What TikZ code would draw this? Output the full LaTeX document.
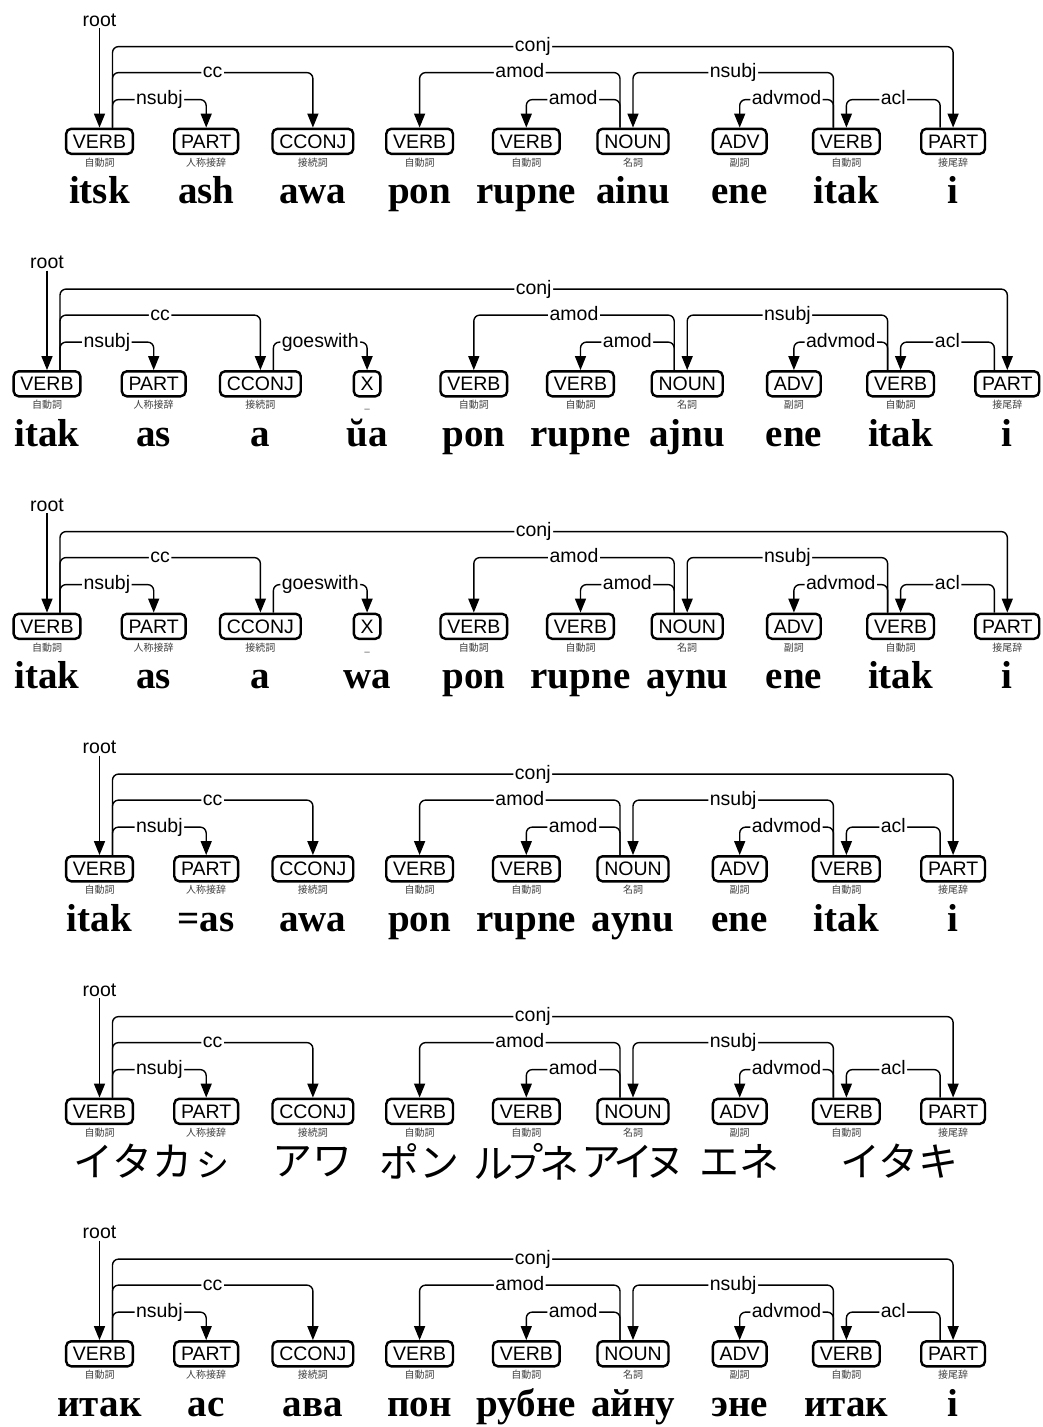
\documentclass[tikz,border=0pt]{standalone}
\usepackage{fontspec}
\setmainfont{Liberation Serif}
\setsansfont{Liberation Sans}
\newfontfamily\cjkfont{Noto Sans CJK JP}
\usetikzlibrary{positioning}
\usetikzlibrary{arrows.meta}

\begin{document}
\begin{tikzpicture}
			[x=1pt,y=1pt,
			 node distance=106.7pt,on grid,
			 tag/.style={draw,line width=2.4pt,rounded corners=5pt,font=\sffamily\fontsize{19.5}{20}\selectfont,
			   inner xsep=6.8pt,inner ysep=5.5pt,text height=14pt,text depth=0pt},
			 gloss/.style={font=\cjkfont\fontsize{10}{10}\selectfont,text=black!75,inner sep=0pt},
			 word/.style={font=\bfseries\fontsize{39}{40}\selectfont,inner sep=0pt},
			 kana/.style={font=\cjkfont\fontsize{40}{40}\selectfont,inner sep=0pt},
			 lbl/.style={font=\sffamily\fontsize{19.5}{20}\selectfont,fill=white,inner xsep=1.5pt,inner ysep=2pt,
			   text height=10pt,text depth=0pt,anchor=center},
			 dep/.style={line width=1.4pt,rounded corners=6pt,-{Triangle[length=14pt,width=11pt]}}]
			\useasboundingbox (0,0) rectangle (1042,-1427);

			% a) itsk ash awa
			\node[tag] (a1) at (99.5,-141.3) {VERB};
			\node[tag] (a2) [right=of a1] {PART};
			\node[tag] (a3) [right=of a2] {CCONJ};
			\node[tag] (a4) [right=of a3] {VERB};
			\node[tag] (a5) [right=of a4] {VERB};
			\node[tag] (a6) [right=of a5] {NOUN};
			\node[tag] (a7) [right=of a6] {ADV};
			\node[tag] (a8) [right=of a7] {VERB};
			\node[tag] (a9) [right=of a8] {PART};
			\node[lbl] (a0) [above=115.3pt of a1,anchor=base] {root};
			\node[gloss] (a1g) [below=25pt of a1,anchor=base] {自動詞};
			\node[gloss] (a2g) [below=25pt of a2,anchor=base] {人称接辞};
			\node[gloss] (a3g) [below=25pt of a3,anchor=base] {接続詞};
			\node[gloss] (a4g) [below=25pt of a4,anchor=base] {自動詞};
			\node[gloss] (a5g) [below=25pt of a5,anchor=base] {自動詞};
			\node[gloss] (a6g) [below=25pt of a6,anchor=base] {名詞};
			\node[gloss] (a7g) [below=25pt of a7,anchor=base] {副詞};
			\node[gloss] (a8g) [below=25pt of a8,anchor=base] {自動詞};
			\node[gloss] (a9g) [below=25pt of a9,anchor=base] {接尾辞};
			\node[word] (a1w) [below=62.5pt of a1,anchor=base] {itsk};
			\node[word] (a2w) [below=62.5pt of a2,anchor=base] {ash};
			\node[word] (a3w) [below=62.5pt of a3,anchor=base] {awa};
			\node[word] (a4w) [below=62.5pt of a4,anchor=base] {pon};
			\node[word] (a5w) [below=62.5pt of a5,anchor=base] {rupne};
			\node[word] (a6w) [below=62.5pt of a6,anchor=base] {ainu};
			\node[word] (a7w) [below=62.5pt of a7,anchor=base] {ene};
			\node[word] (a8w) [below=62.5pt of a8,anchor=base] {itak};
			\node[word] (a9w) [below=62.5pt of a9,anchor=base] {i};
			\draw[dep] (a0) -- (a1);
			\draw[dep] ([xshift=13pt]a1.north) |- node[lbl,pos=.75] {conj} ([yshift=81pt]a9.north) -- (a9);
			\draw[dep] ([xshift=13pt]a1.north) |- node[lbl,pos=.75] {cc} ([yshift=55pt]a3.north) -- (a3);
			\draw[dep] ([xshift=13pt]a1.north) |- node[lbl,pos=.75] {nsubj} ([yshift=28pt]a2.north) -- (a2);
			\draw[dep] ([xshift=-13pt]a6.north) |- node[lbl,pos=.75] {amod} ([yshift=55pt]a4.north) -- (a4);
			\draw[dep] ([xshift=-13pt]a6.north) |- node[lbl,pos=.75] {amod} ([yshift=28pt]a5.north) -- (a5);
			\draw[dep] ([xshift=-13pt]a8.north) |- node[lbl,pos=.75] {nsubj} ([yshift=55pt]a6.north) -- (a6);
			\draw[dep] ([xshift=-13pt]a8.north) |- node[lbl,pos=.75] {advmod} ([yshift=28pt]a7.north) -- (a7);
			\draw[dep] ([xshift=-13pt]a9.north) |- node[lbl,pos=.75] {acl} ([yshift=28pt]a8.north) -- (a8);

			% b) itak as a ua
			\node[tag] (b1) at (47,-383.8) {VERB};
			\node[tag] (b2) [right=of b1] {PART};
			\node[tag] (b3) [right=of b2] {CCONJ};
			\node[tag] (b4) [right=of b3] {X};
			\node[tag] (b5) [right=of b4] {VERB};
			\node[tag] (b6) [right=of b5] {VERB};
			\node[tag] (b7) [right=of b6] {NOUN};
			\node[tag] (b8) [right=of b7] {ADV};
			\node[tag] (b9) [right=of b8] {VERB};
			\node[tag] (b10) [right=of b9] {PART};
			\node[lbl] (b0) [above=115.3pt of b1,anchor=base] {root};
			\node[gloss] (b1g) [below=25pt of b1,anchor=base] {自動詞};
			\node[gloss] (b2g) [below=25pt of b2,anchor=base] {人称接辞};
			\node[gloss] (b3g) [below=25pt of b3,anchor=base] {接続詞};
			\node[gloss] (b4g) [below=25pt of b4,anchor=base] {\_};
			\node[gloss] (b5g) [below=25pt of b5,anchor=base] {自動詞};
			\node[gloss] (b6g) [below=25pt of b6,anchor=base] {自動詞};
			\node[gloss] (b7g) [below=25pt of b7,anchor=base] {名詞};
			\node[gloss] (b8g) [below=25pt of b8,anchor=base] {副詞};
			\node[gloss] (b9g) [below=25pt of b9,anchor=base] {自動詞};
			\node[gloss] (b10g) [below=25pt of b10,anchor=base] {接尾辞};
			\node[word] (b1w) [below=62.5pt of b1,anchor=base] {itak};
			\node[word] (b2w) [below=62.5pt of b2,anchor=base] {as};
			\node[word] (b3w) [below=62.5pt of b3,anchor=base] {a};
			\node[word] (b4w) [below=62.5pt of b4,anchor=base] {ŭa};
			\node[word] (b5w) [below=62.5pt of b5,anchor=base] {pon};
			\node[word] (b6w) [below=62.5pt of b6,anchor=base] {rupne};
			\node[word] (b7w) [below=62.5pt of b7,anchor=base] {ajnu};
			\node[word] (b8w) [below=62.5pt of b8,anchor=base] {ene};
			\node[word] (b9w) [below=62.5pt of b9,anchor=base] {itak};
			\node[word] (b10w) [below=62.5pt of b10,anchor=base] {i};
			\draw[dep] (b0) -- (b1);
			\draw[dep] ([xshift=13pt]b1.north) |- node[lbl,pos=.75] {conj} ([yshift=81pt]b10.north) -- (b10);
			\draw[dep] ([xshift=13pt]b1.north) |- node[lbl,pos=.75] {cc} ([yshift=55pt]b3.north) -- (b3);
			\draw[dep] ([xshift=13pt]b1.north) |- node[lbl,pos=.75] {nsubj} ([yshift=28pt]b2.north) -- (b2);
			\draw[dep] ([xshift=13pt]b3.north) |- node[lbl,pos=.75] {goeswith} ([yshift=28pt]b4.north) -- (b4);
			\draw[dep] ([xshift=-13pt]b7.north) |- node[lbl,pos=.75] {amod} ([yshift=55pt]b5.north) -- (b5);
			\draw[dep] ([xshift=-13pt]b7.north) |- node[lbl,pos=.75] {amod} ([yshift=28pt]b6.north) -- (b6);
			\draw[dep] ([xshift=-13pt]b9.north) |- node[lbl,pos=.75] {nsubj} ([yshift=55pt]b7.north) -- (b7);
			\draw[dep] ([xshift=-13pt]b9.north) |- node[lbl,pos=.75] {advmod} ([yshift=28pt]b8.north) -- (b8);
			\draw[dep] ([xshift=-13pt]b10.north) |- node[lbl,pos=.75] {acl} ([yshift=28pt]b9.north) -- (b9);

			% c) itak as a wa
			\node[tag] (c1) at (47,-626.3) {VERB};
			\node[tag] (c2) [right=of c1] {PART};
			\node[tag] (c3) [right=of c2] {CCONJ};
			\node[tag] (c4) [right=of c3] {X};
			\node[tag] (c5) [right=of c4] {VERB};
			\node[tag] (c6) [right=of c5] {VERB};
			\node[tag] (c7) [right=of c6] {NOUN};
			\node[tag] (c8) [right=of c7] {ADV};
			\node[tag] (c9) [right=of c8] {VERB};
			\node[tag] (c10) [right=of c9] {PART};
			\node[lbl] (c0) [above=115.3pt of c1,anchor=base] {root};
			\node[gloss] (c1g) [below=25pt of c1,anchor=base] {自動詞};
			\node[gloss] (c2g) [below=25pt of c2,anchor=base] {人称接辞};
			\node[gloss] (c3g) [below=25pt of c3,anchor=base] {接続詞};
			\node[gloss] (c4g) [below=25pt of c4,anchor=base] {\_};
			\node[gloss] (c5g) [below=25pt of c5,anchor=base] {自動詞};
			\node[gloss] (c6g) [below=25pt of c6,anchor=base] {自動詞};
			\node[gloss] (c7g) [below=25pt of c7,anchor=base] {名詞};
			\node[gloss] (c8g) [below=25pt of c8,anchor=base] {副詞};
			\node[gloss] (c9g) [below=25pt of c9,anchor=base] {自動詞};
			\node[gloss] (c10g) [below=25pt of c10,anchor=base] {接尾辞};
			\node[word] (c1w) [below=62.5pt of c1,anchor=base] {itak};
			\node[word] (c2w) [below=62.5pt of c2,anchor=base] {as};
			\node[word] (c3w) [below=62.5pt of c3,anchor=base] {a};
			\node[word] (c4w) [below=62.5pt of c4,anchor=base] {wa};
			\node[word] (c5w) [below=62.5pt of c5,anchor=base] {pon};
			\node[word] (c6w) [below=62.5pt of c6,anchor=base] {rupne};
			\node[word] (c7w) [below=62.5pt of c7,anchor=base] {aynu};
			\node[word] (c8w) [below=62.5pt of c8,anchor=base] {ene};
			\node[word] (c9w) [below=62.5pt of c9,anchor=base] {itak};
			\node[word] (c10w) [below=62.5pt of c10,anchor=base] {i};
			\draw[dep] (c0) -- (c1);
			\draw[dep] ([xshift=13pt]c1.north) |- node[lbl,pos=.75] {conj} ([yshift=81pt]c10.north) -- (c10);
			\draw[dep] ([xshift=13pt]c1.north) |- node[lbl,pos=.75] {cc} ([yshift=55pt]c3.north) -- (c3);
			\draw[dep] ([xshift=13pt]c1.north) |- node[lbl,pos=.75] {nsubj} ([yshift=28pt]c2.north) -- (c2);
			\draw[dep] ([xshift=13pt]c3.north) |- node[lbl,pos=.75] {goeswith} ([yshift=28pt]c4.north) -- (c4);
			\draw[dep] ([xshift=-13pt]c7.north) |- node[lbl,pos=.75] {amod} ([yshift=55pt]c5.north) -- (c5);
			\draw[dep] ([xshift=-13pt]c7.north) |- node[lbl,pos=.75] {amod} ([yshift=28pt]c6.north) -- (c6);
			\draw[dep] ([xshift=-13pt]c9.north) |- node[lbl,pos=.75] {nsubj} ([yshift=55pt]c7.north) -- (c7);
			\draw[dep] ([xshift=-13pt]c9.north) |- node[lbl,pos=.75] {advmod} ([yshift=28pt]c8.north) -- (c8);
			\draw[dep] ([xshift=-13pt]c10.north) |- node[lbl,pos=.75] {acl} ([yshift=28pt]c9.north) -- (c9);

			% d) itak =as awa
			\node[tag] (d1) at (99.5,-868.8) {VERB};
			\node[tag] (d2) [right=of d1] {PART};
			\node[tag] (d3) [right=of d2] {CCONJ};
			\node[tag] (d4) [right=of d3] {VERB};
			\node[tag] (d5) [right=of d4] {VERB};
			\node[tag] (d6) [right=of d5] {NOUN};
			\node[tag] (d7) [right=of d6] {ADV};
			\node[tag] (d8) [right=of d7] {VERB};
			\node[tag] (d9) [right=of d8] {PART};
			\node[lbl] (d0) [above=115.3pt of d1,anchor=base] {root};
			\node[gloss] (d1g) [below=25pt of d1,anchor=base] {自動詞};
			\node[gloss] (d2g) [below=25pt of d2,anchor=base] {人称接辞};
			\node[gloss] (d3g) [below=25pt of d3,anchor=base] {接続詞};
			\node[gloss] (d4g) [below=25pt of d4,anchor=base] {自動詞};
			\node[gloss] (d5g) [below=25pt of d5,anchor=base] {自動詞};
			\node[gloss] (d6g) [below=25pt of d6,anchor=base] {名詞};
			\node[gloss] (d7g) [below=25pt of d7,anchor=base] {副詞};
			\node[gloss] (d8g) [below=25pt of d8,anchor=base] {自動詞};
			\node[gloss] (d9g) [below=25pt of d9,anchor=base] {接尾辞};
			\node[word] (d1w) [below=62.5pt of d1,anchor=base] {itak};
			\node[word] (d2w) [below=62.5pt of d2,anchor=base] {=as};
			\node[word] (d3w) [below=62.5pt of d3,anchor=base] {awa};
			\node[word] (d4w) [below=62.5pt of d4,anchor=base] {pon};
			\node[word] (d5w) [below=62.5pt of d5,anchor=base] {rupne};
			\node[word] (d6w) [below=62.5pt of d6,anchor=base] {aynu};
			\node[word] (d7w) [below=62.5pt of d7,anchor=base] {ene};
			\node[word] (d8w) [below=62.5pt of d8,anchor=base] {itak};
			\node[word] (d9w) [below=62.5pt of d9,anchor=base] {i};
			\draw[dep] (d0) -- (d1);
			\draw[dep] ([xshift=13pt]d1.north) |- node[lbl,pos=.75] {conj} ([yshift=81pt]d9.north) -- (d9);
			\draw[dep] ([xshift=13pt]d1.north) |- node[lbl,pos=.75] {cc} ([yshift=55pt]d3.north) -- (d3);
			\draw[dep] ([xshift=13pt]d1.north) |- node[lbl,pos=.75] {nsubj} ([yshift=28pt]d2.north) -- (d2);
			\draw[dep] ([xshift=-13pt]d6.north) |- node[lbl,pos=.75] {amod} ([yshift=55pt]d4.north) -- (d4);
			\draw[dep] ([xshift=-13pt]d6.north) |- node[lbl,pos=.75] {amod} ([yshift=28pt]d5.north) -- (d5);
			\draw[dep] ([xshift=-13pt]d8.north) |- node[lbl,pos=.75] {nsubj} ([yshift=55pt]d6.north) -- (d6);
			\draw[dep] ([xshift=-13pt]d8.north) |- node[lbl,pos=.75] {advmod} ([yshift=28pt]d7.north) -- (d7);
			\draw[dep] ([xshift=-13pt]d9.north) |- node[lbl,pos=.75] {acl} ([yshift=28pt]d8.north) -- (d8);

			% e) katakana
			\node[tag] (e1) at (99.5,-1111.3) {VERB};
			\node[tag] (e2) [right=of e1] {PART};
			\node[tag] (e3) [right=of e2] {CCONJ};
			\node[tag] (e4) [right=of e3] {VERB};
			\node[tag] (e5) [right=of e4] {VERB};
			\node[tag] (e6) [right=of e5] {NOUN};
			\node[tag] (e7) [right=of e6] {ADV};
			\node[tag] (e8) [right=of e7] {VERB};
			\node[tag] (e9) [right=of e8] {PART};
			\node[lbl] (e0) [above=115.3pt of e1,anchor=base] {root};
			\node[gloss] (e1g) [below=25pt of e1,anchor=base] {自動詞};
			\node[gloss] (e2g) [below=25pt of e2,anchor=base] {人称接辞};
			\node[gloss] (e3g) [below=25pt of e3,anchor=base] {接続詞};
			\node[gloss] (e4g) [below=25pt of e4,anchor=base] {自動詞};
			\node[gloss] (e5g) [below=25pt of e5,anchor=base] {自動詞};
			\node[gloss] (e6g) [below=25pt of e6,anchor=base] {名詞};
			\node[gloss] (e7g) [below=25pt of e7,anchor=base] {副詞};
			\node[gloss] (e8g) [below=25pt of e8,anchor=base] {自動詞};
			\node[gloss] (e9g) [below=25pt of e9,anchor=base] {接尾辞};
			\node[kana] (e1w) [below=50pt of e1,xshift=53.35pt] {イタカㇱ};
			\node[kana] (e3w) [below=50pt of e3] {アワ};
			\node[kana] (e4w) [below=50pt of e4] {ポン};
			\node[kana] (e5w) [below=50pt of e5] {ル\kern-10pt ㇷ\rlap{゚}\kern-4pt ネ};
			\node[kana] (e6w) [below=50pt of e6] {ア\kern-8pt イ\kern-8pt ヌ};
			\node[kana] (e7w) [below=50pt of e7] {エネ};
			\node[kana] (e8w) [below=50pt of e8,xshift=53.35pt] {イタキ};
			\draw[dep] (e0) -- (e1);
			\draw[dep] ([xshift=13pt]e1.north) |- node[lbl,pos=.75] {conj} ([yshift=81pt]e9.north) -- (e9);
			\draw[dep] ([xshift=13pt]e1.north) |- node[lbl,pos=.75] {cc} ([yshift=55pt]e3.north) -- (e3);
			\draw[dep] ([xshift=13pt]e1.north) |- node[lbl,pos=.75] {nsubj} ([yshift=28pt]e2.north) -- (e2);
			\draw[dep] ([xshift=-13pt]e6.north) |- node[lbl,pos=.75] {amod} ([yshift=55pt]e4.north) -- (e4);
			\draw[dep] ([xshift=-13pt]e6.north) |- node[lbl,pos=.75] {amod} ([yshift=28pt]e5.north) -- (e5);
			\draw[dep] ([xshift=-13pt]e8.north) |- node[lbl,pos=.75] {nsubj} ([yshift=55pt]e6.north) -- (e6);
			\draw[dep] ([xshift=-13pt]e8.north) |- node[lbl,pos=.75] {advmod} ([yshift=28pt]e7.north) -- (e7);
			\draw[dep] ([xshift=-13pt]e9.north) |- node[lbl,pos=.75] {acl} ([yshift=28pt]e8.north) -- (e8);

			% f) cyrillic
			\node[tag] (f1) at (99.5,-1353.8) {VERB};
			\node[tag] (f2) [right=of f1] {PART};
			\node[tag] (f3) [right=of f2] {CCONJ};
			\node[tag] (f4) [right=of f3] {VERB};
			\node[tag] (f5) [right=of f4] {VERB};
			\node[tag] (f6) [right=of f5] {NOUN};
			\node[tag] (f7) [right=of f6] {ADV};
			\node[tag] (f8) [right=of f7] {VERB};
			\node[tag] (f9) [right=of f8] {PART};
			\node[lbl] (f0) [above=115.3pt of f1,anchor=base] {root};
			\node[gloss] (f1g) [below=25pt of f1,anchor=base] {自動詞};
			\node[gloss] (f2g) [below=25pt of f2,anchor=base] {人称接辞};
			\node[gloss] (f3g) [below=25pt of f3,anchor=base] {接続詞};
			\node[gloss] (f4g) [below=25pt of f4,anchor=base] {自動詞};
			\node[gloss] (f5g) [below=25pt of f5,anchor=base] {自動詞};
			\node[gloss] (f6g) [below=25pt of f6,anchor=base] {名詞};
			\node[gloss] (f7g) [below=25pt of f7,anchor=base] {副詞};
			\node[gloss] (f8g) [below=25pt of f8,anchor=base] {自動詞};
			\node[gloss] (f9g) [below=25pt of f9,anchor=base] {接尾辞};
			\node[word] (f1w) [below=62.5pt of f1,anchor=base] {итак};
			\node[word] (f2w) [below=62.5pt of f2,anchor=base] {ас};
			\node[word] (f3w) [below=62.5pt of f3,anchor=base] {ава};
			\node[word] (f4w) [below=62.5pt of f4,anchor=base] {пон};
			\node[word] (f5w) [below=62.5pt of f5,anchor=base] {рубне};
			\node[word] (f6w) [below=62.5pt of f6,anchor=base] {айну};
			\node[word] (f7w) [below=62.5pt of f7,anchor=base] {эне};
			\node[word] (f8w) [below=62.5pt of f8,anchor=base] {итак};
			\node[word] (f9w) [below=62.5pt of f9,anchor=base] {i};
			\draw[dep] (f0) -- (f1);
			\draw[dep] ([xshift=13pt]f1.north) |- node[lbl,pos=.75] {conj} ([yshift=81pt]f9.north) -- (f9);
			\draw[dep] ([xshift=13pt]f1.north) |- node[lbl,pos=.75] {cc} ([yshift=55pt]f3.north) -- (f3);
			\draw[dep] ([xshift=13pt]f1.north) |- node[lbl,pos=.75] {nsubj} ([yshift=28pt]f2.north) -- (f2);
			\draw[dep] ([xshift=-13pt]f6.north) |- node[lbl,pos=.75] {amod} ([yshift=55pt]f4.north) -- (f4);
			\draw[dep] ([xshift=-13pt]f6.north) |- node[lbl,pos=.75] {amod} ([yshift=28pt]f5.north) -- (f5);
			\draw[dep] ([xshift=-13pt]f8.north) |- node[lbl,pos=.75] {nsubj} ([yshift=55pt]f6.north) -- (f6);
			\draw[dep] ([xshift=-13pt]f8.north) |- node[lbl,pos=.75] {advmod} ([yshift=28pt]f7.north) -- (f7);
			\draw[dep] ([xshift=-13pt]f9.north) |- node[lbl,pos=.75] {acl} ([yshift=28pt]f8.north) -- (f8);
\end{tikzpicture}
\end{document}
